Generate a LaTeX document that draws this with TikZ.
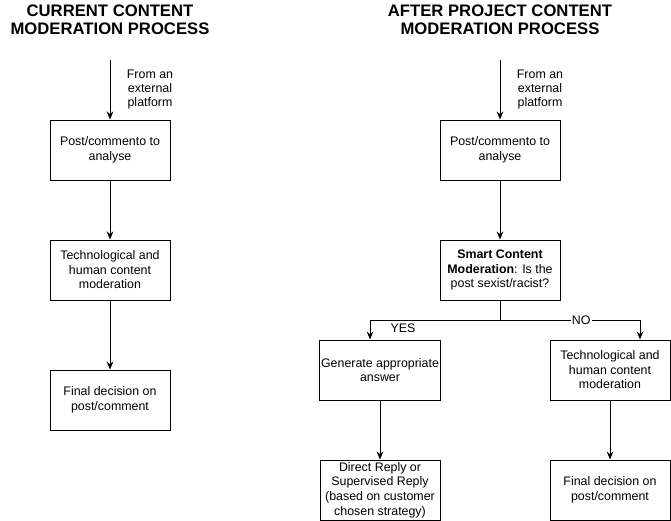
\documentclass[tikz,border=0pt]{standalone}
\usepackage{fontspec}
\setmainfont{Liberation Sans}
\usetikzlibrary{arrows.meta}
\tikzset{
  box/.style={draw, minimum width=90pt, minimum height=45pt, align=center, inner sep=1pt, font=\fontsize{9.3}{10.9}\selectfont},
  heading/.style={align=center, font=\fontsize{12.5}{13.5}\selectfont\bfseries},
  note/.style={align=center, font=\fontsize{9.3}{10.5}\selectfont}
}
\begin{document}
\begin{tikzpicture}[x=0.75pt, y=-0.75pt, >={Stealth[length=6pt,width=5pt]}, line width=0.75pt]
\useasboundingbox (0,0) rectangle (671,521);
\node[heading] (titleL) at (110,20) {CURRENT CONTENT\\MODERATION PROCESS};
\node[heading] (titleR) at (500,20) {AFTER PROJECT CONTENT\\MODERATION PROCESS};
\coordinate (srcL) at (110,60);
\coordinate (srcR) at (500,60);
\node[note] (fromL) at (150,90) {From an\\external\\platform};
\node[note] (fromR) at (540,90) {From an\\external\\platform};
\node[box] (postL) at (110,150) {Post/commento to\\analyse};
\node[box] (techL) at (110,270) {Technological and\\human content\\moderation};
\node[box] (finalL) at (110,400) {Final decision on\\post/comment};
\node[box] (postR) at (500,150) {Post/commento to\\analyse};
\node[box] (smart) at (500,270) {\textbf{Smart Content}\\\textbf{Moderation}: Is the\\post sexist/racist?};
\node[box] (answer) at (380,370) {Generate appropriate\\answer};
\node[box] (techR) at (610,370) {Technological and\\human content\\moderation};
\node[box] (reply) at (380,490) {Direct Reply or\\Supervised Reply\\(based on customer\\chosen strategy)};
\node[box] (finalR) at (610,490) {Final decision on\\post/comment};
\coordinate (fork) at (500,320);
\coordinate (yes) at (370,320);
\coordinate (no) at (640,320);
\draw[->] (srcL) -- (postL);
\draw[->] (postL) -- (techL);
\draw[->] (techL) -- (finalL);
\draw[->] (srcR) -- (postR);
\draw[->] (postR) -- (smart);
\draw (smart) -- (fork);
\draw[->] (fork) -- (yes) -- (yes |- answer.north);
\draw[->] (fork) -- node[pos=0.58, fill=white, inner sep=1pt, font=\fontsize{9.3}{10}\selectfont] (nolabel) {NO} (no) -- (no |- techR.north);
\node[note] (yeslabel) at (403,328) {YES};
\draw[->] (answer) -- (reply);
\draw[->] (techR) -- (finalR);
\end{tikzpicture}
\end{document}
